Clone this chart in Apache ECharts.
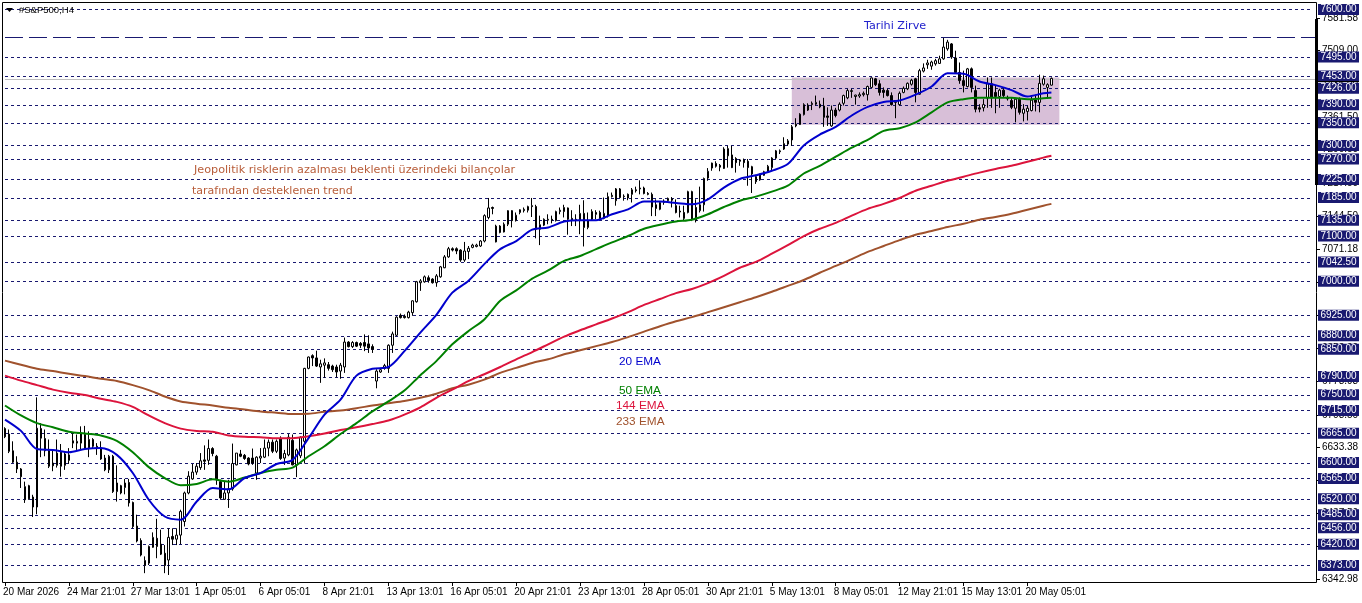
<!DOCTYPE html>
<html><head><meta charset="utf-8"><style>html,body{margin:0;padding:0;background:#fff}#c{width:1362px;height:603px}</style>
<script src="https://cdn.jsdelivr.net/npm/echarts@6/dist/echarts.min.js"></script></head><body><div id="c"></div><script>
const opens=[6675,6663,6626,6601,6586,6518,6549,6524,6502,6675,6653,6626,6599,6594,6623,6594,6617,6648,6643,6643,6662,6631,6651,6636,6632,6610,6584,6614,6536,6549,6545,6556,6512,6460,6428,6373,6378,6413,6433,6420,6400,6385,6437,6431,6440,6470,6533,6564,6579,6589,6606,6605,6631,6614,6558,6519,6533,6542,6595,6619,6616,6610,6610,6577,6610,6612,6632,6645,6625,6653,6610,6617,6649,6595,6615,6647,6808,6836,6831,6811,6815,6816,6813,6811,6802,6811,6866,6856,6865,6863,6865,6862,6856,6780,6800,6808,6808,6859,6881,6925,6923,6920,6931,6955,6997,6999,7008,7005,6997,7010,7030,7054,7072,7072,7069,7047,7066,7075,7077,7078,7089,7141,7163,7087,7122,7109,7126,7156,7134,7152,7156,7157,7167,7165,7115,7124,7135,7137,7134,7154,7154,7162,7139,7137,7134,7150,7119,7137,7152,7152,7139,7145,7187,7178,7204,7188,7192,7192,7202,7204,7206,7194,7192,7169,7159,7174,7178,7182,7167,7155,7152,7152,7198,7163,7156,7169,7228,7250,7260,7256,7249,7277,7279,7271,7268,7268,7265,7253,7231,7224,7234,7242,7251,7272,7286,7292,7303,7312,7343,7346,7368,7378,7390,7391,7391,7387,7365,7343,7378,7378,7393,7405,7419,7408,7409,7412,7412,7428,7447,7436,7422,7421,7410,7399,7390,7417,7425,7435,7447,7413,7464,7478,7475,7480,7481,7491,7513,7524,7493,7461,7443,7430,7469,7421,7383,7383,7405,7436,7417,7408,7422,7406,7399,7382,7402,7371,7375,7377,7400,7395,7435,7428,7433];
const closes=[6657,6625,6601,6586,6569,6547,6520,6502,6676,6654,6626,6592,6593,6621,6592,6619,6605,6643,6647,6665,6631,6651,6636,6631,6608,6584,6614,6536,6555,6533,6555,6511,6459,6427,6396,6384,6415,6435,6415,6398,6373,6435,6431,6440,6492,6533,6570,6579,6592,6604,6603,6631,6620,6562,6522,6533,6542,6598,6621,6614,6609,6597,6599,6612,6614,6632,6645,6625,6647,6609,6620,6656,6595,6628,6656,6808,6833,6831,6813,6818,6820,6808,6805,6800,6815,6866,6856,6865,6857,6859,6857,6853,6850,6802,6805,6814,6859,6884,6921,6920,6920,6932,6957,6999,7001,7010,7002,6997,7012,7032,7054,7072,7069,7067,7047,7067,7073,7080,7080,7089,7145,7162,7161,7122,7108,7126,7156,7134,7146,7158,7159,7165,7165,7115,7125,7137,7137,7135,7154,7157,7163,7137,7135,7134,7150,7119,7134,7154,7148,7139,7150,7187,7190,7204,7185,7187,7184,7202,7200,7206,7194,7192,7164,7161,7174,7177,7183,7179,7152,7153,7139,7198,7137,7134,7169,7227,7243,7261,7254,7252,7292,7293,7251,7262,7265,7262,7251,7237,7220,7235,7242,7254,7272,7288,7288,7304,7310,7341,7347,7369,7390,7389,7393,7395,7385,7362,7362,7378,7366,7391,7410,7421,7421,7411,7412,7415,7430,7449,7434,7417,7417,7410,7390,7395,7415,7426,7437,7444,7417,7465,7471,7482,7484,7487,7491,7517,7528,7495,7461,7443,7432,7469,7428,7380,7380,7390,7436,7405,7408,7422,7410,7403,7384,7402,7373,7380,7382,7400,7395,7437,7447,7434,7448];
const highs=[6678,6673,6647,6614,6588,6558,6551,6529,6744,6687,6673,6651,6628,6651,6641,6625,6632,6665,6662,6680,6681,6669,6654,6643,6647,6617,6617,6617,6594,6551,6564,6564,6514,6485,6433,6393,6417,6446,6476,6452,6418,6455,6455,6455,6496,6536,6581,6597,6599,6621,6638,6651,6634,6617,6562,6558,6562,6642,6621,6628,6619,6612,6631,6614,6632,6651,6651,6651,6651,6658,6628,6663,6662,6631,6658,6809,6834,6839,6847,6827,6830,6822,6816,6816,6820,6876,6868,6868,6867,6866,6883,6881,6861,6806,6809,6818,6861,6889,6923,6929,6927,6935,6958,7001,7005,7013,7013,7007,7016,7034,7058,7076,7075,7075,7071,7087,7078,7083,7083,7091,7148,7184,7165,7125,7124,7130,7157,7157,7152,7159,7163,7167,7184,7169,7145,7139,7148,7145,7156,7163,7169,7163,7157,7148,7169,7179,7152,7159,7157,7156,7185,7196,7196,7206,7206,7192,7194,7206,7209,7223,7209,7197,7196,7181,7176,7181,7185,7186,7181,7167,7167,7200,7200,7181,7209,7229,7250,7262,7265,7259,7296,7299,7299,7274,7270,7271,7270,7255,7235,7238,7244,7257,7274,7290,7291,7318,7314,7345,7360,7371,7393,7393,7397,7410,7399,7405,7384,7388,7383,7395,7412,7425,7425,7412,7417,7419,7432,7450,7449,7444,7428,7425,7417,7400,7419,7430,7439,7447,7449,7469,7481,7489,7487,7491,7498,7537,7533,7526,7509,7483,7465,7471,7472,7432,7391,7402,7450,7450,7432,7425,7428,7410,7405,7405,7406,7391,7388,7410,7412,7456,7454,7437,7450];
const lows=[6654,6621,6599,6577,6544,6511,6518,6480,6486,6612,6614,6588,6581,6589,6569,6584,6597,6632,6628,6628,6628,6612,6632,6617,6606,6581,6577,6533,6514,6530,6530,6503,6455,6424,6393,6356,6374,6412,6389,6396,6356,6352,6418,6418,6420,6459,6530,6562,6573,6584,6584,6595,6614,6551,6518,6518,6500,6538,6594,6612,6606,6594,6595,6562,6599,6610,6614,6621,6621,6606,6595,6614,6594,6568,6610,6598,6806,6813,6811,6776,6787,6803,6800,6788,6785,6798,6854,6853,6855,6853,6846,6842,6842,6764,6798,6805,6798,6842,6879,6918,6918,6918,6924,6953,6979,6997,6997,6995,6988,7008,7029,7052,7066,7060,7043,7043,7049,7073,7075,7076,7086,7137,7148,7086,7106,7108,7122,7119,7132,7148,7152,7152,7142,7095,7080,7122,7126,7128,7132,7148,7141,7103,7122,7122,7104,7077,7115,7135,7137,7137,7137,7141,7185,7167,7184,7178,7179,7174,7196,7192,7192,7190,7144,7144,7157,7169,7174,7163,7150,7141,7133,7150,7133,7130,7152,7154,7222,7244,7251,7243,7248,7251,7250,7240,7255,7251,7211,7195,7215,7222,7233,7240,7244,7270,7281,7290,7299,7299,7340,7345,7366,7376,7378,7388,7382,7341,7343,7341,7362,7375,7388,7402,7405,7390,7405,7408,7399,7427,7431,7410,7405,7408,7388,7360,7388,7415,7422,7432,7395,7412,7461,7469,7467,7476,7480,7489,7509,7491,7458,7436,7417,7428,7417,7373,7373,7375,7383,7383,7371,7383,7406,7399,7380,7351,7368,7353,7355,7375,7375,7373,7432,7406,7432];
const emaIndex=[0,4,8,12,16,20,24,28,32,36,40,44,48,52,56,60,64,68,72,76,80,84,88,92,96,100,104,108,112,116,120,124,128,132,136,140,144,148,152,156,160,164,168,172,176,180,184,188,192,196,200,204,208,212,216,220,224,228,232,236,240,244,248,252,256,260,262];
const ema20=[6695,6670,6630,6628,6623,6630,6632,6617,6577,6518,6481,6474,6514,6544,6541,6566,6577,6597,6606,6654,6706,6739,6792,6807,6811,6846,6887,6926,6975,7001,7038,7071,7089,7114,7119,7132,7135,7135,7148,7159,7176,7176,7173,7170,7181,7207,7226,7234,7244,7259,7300,7324,7341,7366,7385,7396,7399,7412,7430,7459,7458,7441,7433,7422,7408,7415,7417];
const ema50=[6726,6704,6687,6678,6668,6664,6660,6648,6623,6590,6566,6550,6553,6563,6558,6567,6577,6584,6589,6614,6636,6663,6687,6713,6735,6759,6793,6824,6861,6890,6916,6957,6980,7006,7024,7045,7056,7071,7086,7100,7116,7125,7132,7136,7148,7164,7178,7187,7198,7211,7238,7255,7275,7295,7312,7332,7338,7351,7373,7395,7402,7405,7405,7405,7402,7404,7405];
const ema144=[6792,6781,6771,6761,6754,6749,6741,6734,6723,6704,6687,6675,6670,6668,6660,6657,6656,6654,6654,6658,6664,6672,6678,6685,6693,6706,6722,6743,6761,6780,6795,6811,6828,6844,6861,6878,6892,6905,6918,6932,6948,6961,6974,6983,6996,7012,7030,7043,7061,7080,7100,7116,7129,7145,7160,7171,7184,7200,7211,7222,7231,7240,7248,7255,7264,7273,7277];
const ema233=[6825,6816,6807,6802,6796,6791,6785,6780,6771,6760,6746,6735,6730,6726,6721,6717,6713,6710,6707,6708,6712,6715,6720,6726,6731,6736,6743,6752,6764,6772,6783,6798,6809,6820,6828,6839,6848,6857,6866,6877,6889,6901,6912,6921,6932,6943,6954,6965,6977,6990,7003,7019,7034,7049,7065,7078,7091,7103,7111,7120,7127,7136,7142,7149,7158,7167,7171];
const dateLabels=["20 Mar 2026","24 Mar 21:01","27 Mar 13:01","1 Apr 05:01","6 Apr 05:01","8 Apr 21:01","13 Apr 13:01","16 Apr 05:01","20 Apr 21:01","23 Apr 13:01","28 Apr 05:01","30 Apr 21:01","5 May 13:01","8 May 05:01","12 May 21:01","15 May 13:01","20 May 05:01"];
const boxedLevels=[7600,7495,7453,7426,7390,7350,7300,7270,7225,7185,7135,7100,7042.5,7000,6925,6880,6850,6790,6750,6715,6665,6600,6565,6520,6485,6456,6420,6373];
const longDashLevels=[7540];
const plainTicks=[7581.58,7509,7436,7361.5,7290.5,7217.5,7144.5,7071.18,6998.5,6925.5,6852,6778.98,6703.5,6633.38,6560.5,6487.5,6415,6342.98];
const bidLevels=[7447.5];
const zoneTop=7450, zoneBottom=7345.5, zoneFrom=197, zoneTo=264;
const slotCount=329, labelEvery=16;

const navy='#191970', font='"Liberation Sans", sans-serif';
const cats=Array.from({length:slotCount},(_,i)=>String(i));
const candles=opens.map((o,i)=>[o,closes[i],lows[i],highs[i]]);
const pair=a=>a.map((v,k)=>[emaIndex[k],v]);
const lineS=(name,a,color)=>({name,type:'line',data:pair(a),smooth:0.3,showSymbol:false,symbol:'none',lineStyle:{color,width:2},itemStyle:{color},z:6,silent:true,animation:false});
const levelS=(levels,dash,color,first,last)=>({type:'custom',silent:true,z:2,clip:false,encode:{x:0,y:1},
  data:levels.map(v=>[first,v]),
  renderItem:(p,api)=>{const a=api.coord([first,api.value(1)]),b=api.coord([last,api.value(1)]);const y=Math.round(a[1])+0.5;
    return {type:'line',shape:{x1:a[0],y1:y,x2:b[0],y2:y},style:{stroke:color,lineWidth:1,lineDash:dash}};}});
const txt=(left,top,text,fill,f)=>({type:'text',left,top,silent:true,z:50,style:{text,fill,font:f}});
const dv='11.2px "DejaVu Sans"', dv2='11px "DejaVu Sans"', nt='11.8px '+font;

const option={animation:false,backgroundColor:'#fff',
 grid:{left:1.5,right:44.5,top:2,bottom:20,show:false},
 xAxis:{type:'category',data:cats,boundaryGap:true,
  axisLine:{show:false},splitLine:{show:false},
  axisTick:{show:true,alignWithLabel:true,length:3,lineStyle:{color:'#000'},
    interval:(i)=>i%labelEvery===0 && i/labelEvery<dateLabels.length},
  axisLabel:{interval:(i)=>i%labelEvery===0 && i/labelEvery<dateLabels.length,padding:[0,0,0,-2],
    formatter:(v,i)=>dateLabels[Number(v)/labelEvery]||'',align:'left',margin:4,color:'#000',fontFamily:font,fontSize:10}},
 yAxis:[
  {type:'value',position:'right',min:6334.3,max:7616.5,scale:true,splitLine:{show:false},axisLine:{show:false},
   axisTick:{show:true,length:3,inside:false,customValues:plainTicks,lineStyle:{color:'#000'}},
   axisLabel:{customValues:plainTicks,margin:5,color:'#000',fontFamily:font,fontSize:10,formatter:v=>v.toFixed(2),showMinLabel:true,showMaxLabel:true}},
  {type:'value',position:'right',min:6334.3,max:7616.5,scale:true,splitLine:{show:false},axisLine:{show:false},axisTick:{show:false},z:5,
   axisLabel:{customValues:boxedLevels,margin:1,fontFamily:font,showMinLabel:true,showMaxLabel:true,
    formatter:v=>'{b|'+v.toFixed(2)+'}',
    rich:{b:{backgroundColor:navy,color:'#fff',width:41,height:11,lineHeight:11,align:'center',fontSize:10,fontFamily:font}}}}
 ],
 series:[
  {name:'zone',type:'line',data:[],z:1,silent:true,
   markArea:{silent:true,z:1,itemStyle:{color:'#d8bfd8',opacity:1},data:[[{xAxis:zoneFrom,yAxis:zoneTop},{xAxis:zoneTo,yAxis:zoneBottom}]]}},
  levelS(bidLevels,null,'#c0c0c0',0,328),
  levelS(boxedLevels,[3,3],navy,0,327),
  levelS(longDashLevels,[18,6],navy,0,328),
  {name:'S&P500',type:'candlestick',data:candles,barWidth:2,z:4,silent:true,
   itemStyle:{color:'#fff',color0:'#000',borderColor:'#000',borderColor0:'#000',borderWidth:1}},
  lineS('233 EMA',ema233,'#a0522d'),
  lineS('144 EMA',ema144,'#dc143c'),
  lineS('50 EMA',ema50,'#008000'),
  lineS('20 EMA',ema20,'#0000cd')
 ],
 graphic:[
  {type:'rect',silent:true,z:40,shape:{x:2.5,y:2.5,width:1314,height:580},style:{fill:'none',stroke:'#000',lineWidth:1}},
  {type:'rect',silent:true,z:41,shape:{x:1315,y:19,width:3,height:166},style:{fill:'#000'}},
  {type:'rect',silent:true,z:60,shape:{x:1318,y:81,width:41,height:1},style:{fill:'#000'}},
  {type:'polygon',silent:true,z:45,shape:{points:[[6,8],[13,8],[9.5,12]]},style:{fill:'#000'}},
  txt(19,5,'#S&P500,H4','#000','9.5px '+font),
  txt(864,21,'Tarihi Zirve','#2222cc',dv),
  txt(194,165,'Jeopolitik risklerin azalması beklenti üzerindeki bilançolar','#b85c38',dv),
  txt(192,186,'tarafından desteklenen trend','#b85c38',dv2),
  txt(619,356,'20 EMA','#0000cd',nt),
  txt(619,385,'50 EMA','#008000',nt),
  txt(616,400,'144 EMA','#dc143c',nt),
  txt(616,416,'233 EMA','#a0522d',nt)
 ]};
echarts.init(document.getElementById('c'),null,{renderer:'canvas'}).setOption(option);
</script></body></html>
